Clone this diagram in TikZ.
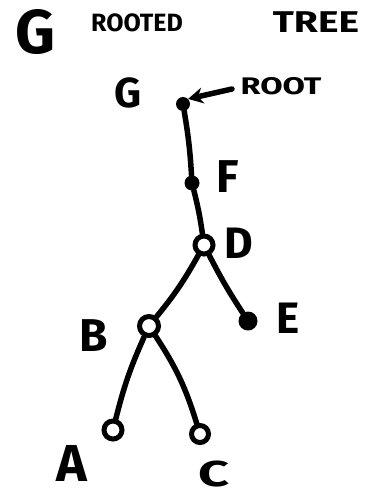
\documentclass[tikz,border=0pt]{standalone}
\usepackage{fontspec}
\setmainfont{Fira Sans}
\usetikzlibrary{arrows.meta}
\begin{document}
\begin{tikzpicture}[x=1pt,y=-1pt,
  edge/.style={line width=5.5pt,line cap=round,line join=round},
  solid vertex/.style={circle,fill=black,inner sep=0pt},
  hollow vertex/.style={circle,draw=black,fill=white,line width=5pt,inner sep=0pt},
  lbl/.style={font=\bfseries\fontsize{#1}{#1}\selectfont,inner sep=0pt,anchor=center},
  lbl/.default=40
]
\useasboundingbox[fill=white] (0,0) rectangle (381,498);

% heading
\node[lbl=62] (title) at (35,32) {G};
\node[lbl=25] (rooted) at (137,23) {ROOTED};
\node[lbl=30] (tree) at (316,22) {\scalebox{1.3}[1]{TREE}};

% vertices
\node[solid vertex,minimum size=14pt] (g) at (183,104) {};
\node[solid vertex,minimum size=15pt] (f) at (192,183) {};
\node[hollow vertex,minimum size=18pt] (d) at (204,245) {};
\node[hollow vertex,minimum size=19pt] (b) at (149,326) {};
\node[solid vertex,minimum size=19pt] (e) at (248,321) {};
\node[hollow vertex,minimum size=18pt] (a) at (113,430) {};
\node[hollow vertex,minimum size=17pt] (c) at (200,434) {};

% edges
\draw[edge] (g) to[bend left=3] (f);
\draw[edge] (f) to[bend left=3] (d);
\draw[edge] (d) to[bend left=5] (b);
\draw[edge] (d) to[bend right=3] (e);
\draw[edge] (b) to[bend right=5] (a);
\draw[edge] (b) to[bend left=8] (c);

% vertex labels
\node[lbl=42] (lg) at (128,93) {G};
\node[lbl=46] (lf) at (228,177) {F};
\node[lbl=44] (ld) at (239,243) {D};
\node[lbl=44] (le) at (288,318) {E};
\node[lbl=46] (lb) at (94,336) {B};
\node[lbl=52] (la) at (72,463) {A};
\node[lbl=36] (lc) at (214,474) {\scalebox{1.5}[1]{C}};
\node[lbl=24] (lroot) at (281,86) {\scalebox{1.35}[1]{ROOT}};

% pointer to the root
\coordinate (tail) at (232,89);
\draw[edge,-{Stealth[length=15pt,width=16pt]}] (tail) -- (g.north east);
\end{tikzpicture}
\end{document}
